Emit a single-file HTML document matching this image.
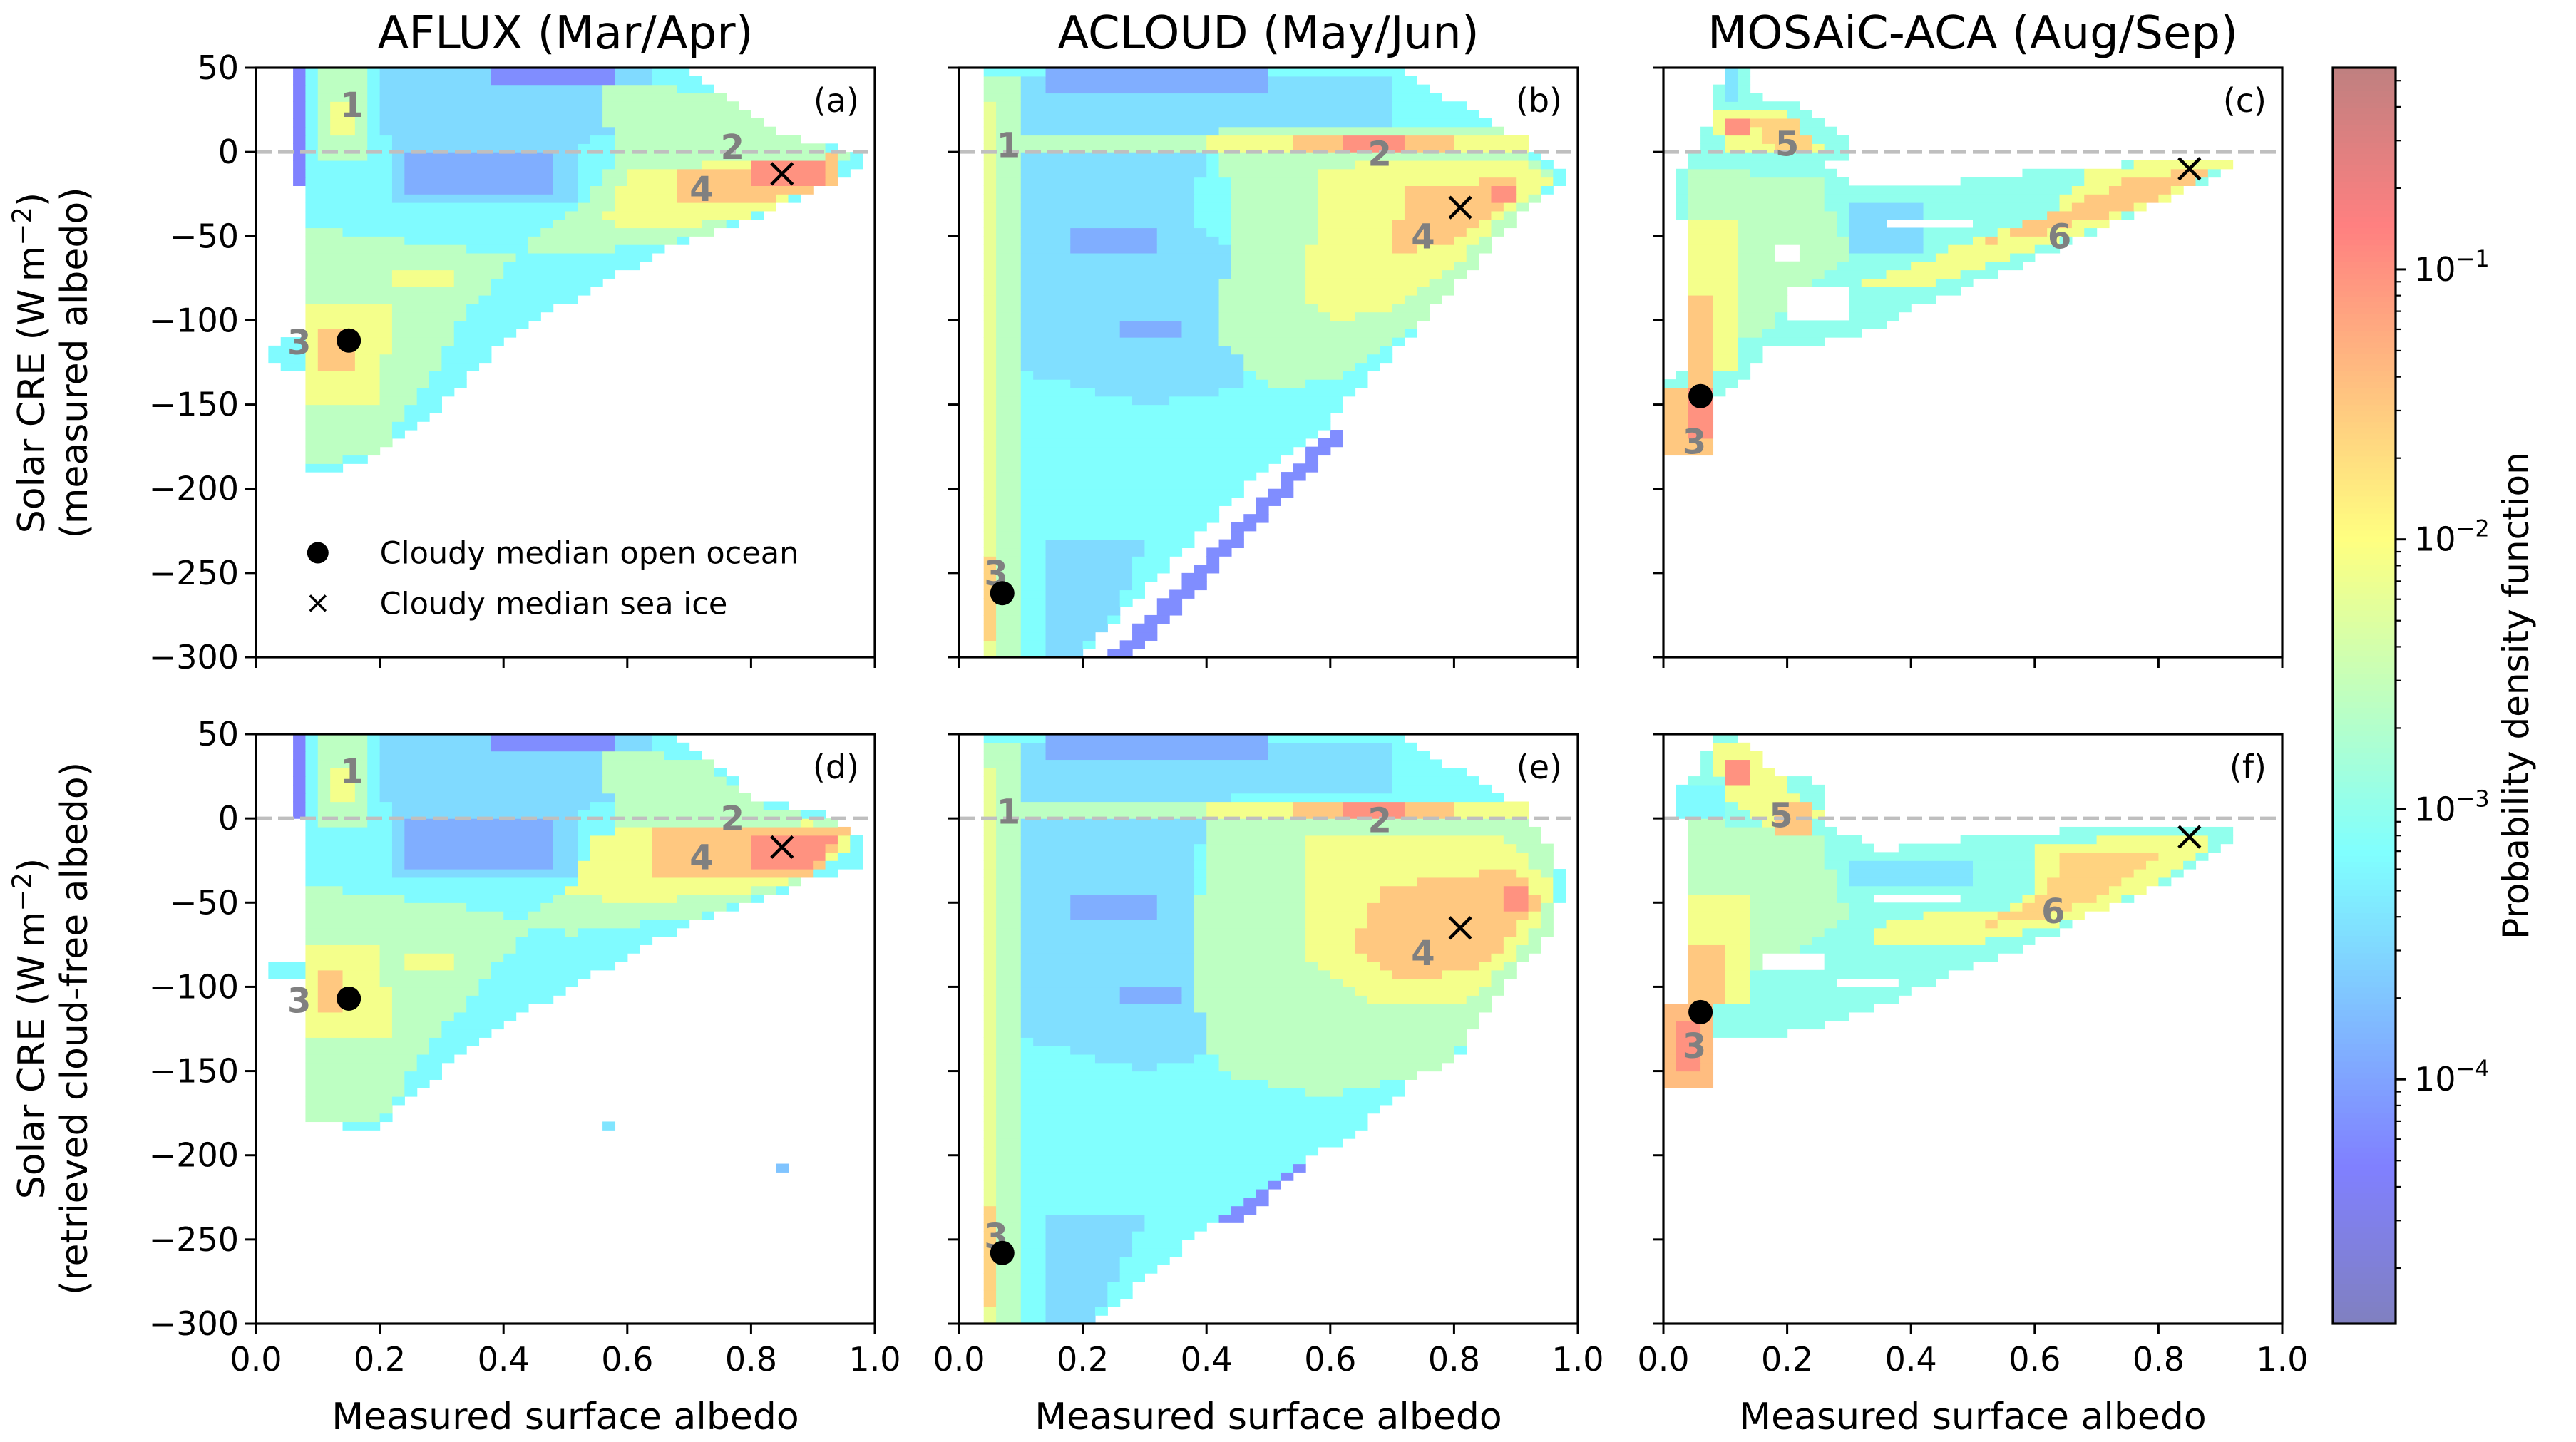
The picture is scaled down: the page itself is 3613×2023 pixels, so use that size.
<!DOCTYPE html>
<html><head><meta charset="utf-8"><title>Solar CRE vs surface albedo</title>
<style>
html,body{margin:0;padding:0;background:#fff;}
svg{display:block;font-family:"DejaVu Sans","Liberation Sans",sans-serif;}
</style></head>
<body>
<svg id="fig" xmlns="http://www.w3.org/2000/svg" width="3613" height="2023" viewBox="0 0 3613 2023">
<rect x="0" y="0" width="3613" height="2023" fill="#fff"/>
</svg>
<script>
// ---------------- data ----------------
const xTicks = [0, 0.2, 0.4, 0.6, 0.8, 1.0];
const xTickLabels = ["0.0", "0.2", "0.4", "0.6", "0.8", "1.0"];
const yTicks = [50, 0, -50, -100, -150, -200, -250, -300];
const yTickLabels = ["50", "0", "\u221250", "\u2212100", "\u2212150", "\u2212200", "\u2212250", "\u2212300"];
const titles = ["AFLUX (Mar/Apr)", "ACLOUD (May/Jun)", "MOSAiC-ACA (Aug/Sep)"];
const panelTags = ["(a)", "(b)", "(c)", "(d)", "(e)", "(f)"];
const cbarDecades = [-1, -2, -3, -4];
const cbarMinExp = -4.905, cbarMaxExp = -0.253;

// median markers [albedo, CRE]
const oceanMedians = [[0.15, -112], [0.07, -262], [0.06, -145], [0.15, -107], [0.07, -258], [0.06, -115]];
const iceMedians = [[0.85, -13], [0.81, -33], [0.85, -10], [0.85, -17], [0.81, -65], [0.85, -11]];
// regime number labels: [text, albedo, CRE]
const regimeLabels = [
 [["1",0.155,28],["2",0.77,3],["4",0.72,-22],["3",0.07,-113]],
 [["1",0.08,4],["2",0.68,-1],["4",0.75,-50],["3",0.06,-250]],
 [["5",0.2,5],["6",0.64,-50],["3",0.05,-172]],
 [["1",0.155,28],["2",0.77,0],["4",0.72,-23],["3",0.07,-108]],
 [["1",0.08,4],["2",0.68,-1],["4",0.75,-80],["3",0.06,-248]],
 [["5",0.19,2],["6",0.63,-55],["3",0.05,-135]]
];

// density regions: log10(pdf) level per region (null = empty), polygons in [albedo, CRE]
const aLevels = [-3.2,-3.5,-4.3,-3.9,-4.2,-2.6,-2.6,-2.6,-2.1,-2.1,-2.1,-2.1,-1.5,-1.5,-1.0];
const aShapes = [
 [[0.07,50],[0.7,50],[0.76,35],[0.8,20],[0.86,10],[0.98,0],[0.98,-10],[0.92,-20],[0.86,-30],[0.8,-40],[0.65,-60],[0.5,-90],[0.38,-120],[0.3,-150],[0.2,-180],[0.12,-190],[0.08,-190],[0.08,-130],[0.02,-125],[0.02,-115],[0.08,-110],[0.07,-20]],
 [[0.2,50],[0.64,50],[0.64,20],[0.52,5],[0.52,-28],[0.22,-28]],
 [[0.07,50],[0.09,50],[0.09,-20],[0.07,-20]],
 [[0.24,2],[0.48,2],[0.48,-25],[0.24,-25]],
 [[0.38,50],[0.58,50],[0.58,40],[0.38,40]],
 [[0.08,-45],[0.3,-55],[0.42,-62],[0.34,-95],[0.28,-135],[0.2,-178],[0.08,-188]],
 [[0.56,40],[0.74,36],[0.84,12],[0.96,-3],[0.86,-30],[0.7,-52],[0.5,-62],[0.42,-55],[0.52,-32],[0.58,-8]],
 [[0.1,50],[0.18,50],[0.18,-5],[0.1,-5]],
 [[0.08,-92],[0.22,-92],[0.2,-150],[0.08,-150]],
 [[0.6,-12],[0.8,-4],[0.92,-12],[0.82,-36],[0.66,-46],[0.56,-42]],
 [[0.13,10],[0.17,10],[0.17,32],[0.13,32]],
 [[0.22,-68],[0.32,-68],[0.32,-80],[0.22,-80]],
 [[0.68,-12],[0.94,-2],[0.94,-20],[0.82,-30],[0.68,-32]],
 [[0.11,-104],[0.16,-104],[0.16,-132],[0.11,-132]],
 [[0.8,-6],[0.93,-6],[0.93,-18],[0.8,-20]]
];
const bLevels = [-3.15,-3.45,-3.9,-3.9,-3.9,-3.5,-4.2,-2.6,-2.6,-2.2,-2.6,-2.1,-1.5,-1.0,-2.1,-1.5,-1.0,-1.6];
const bShapes = [
 [[0.04,50],[0.71,50],[0.8,30],[0.86,16],[0.9,4],[0.98,-12],[0.98,-20],[0.9,-40],[0.85,-60],[0.8,-80],[0.74,-105],[0.64,-143],[0.58,-168],[0.46,-200],[0.38,-229],[0.28,-267],[0.19,-300],[0.04,-300]],
 [[0.1,45],[0.7,45],[0.7,15],[0.4,12],[0.38,-40],[0.5,-80],[0.45,-140],[0.3,-150],[0.1,-130]],
 [[0.14,50],[0.5,50],[0.5,36],[0.14,36]],
 [[0.18,-45],[0.32,-45],[0.32,-60],[0.18,-60]],
 [[0.26,-100],[0.36,-100],[0.36,-110],[0.26,-110]],
 [[0.15,-230],[0.3,-230],[0.26,-270],[0.19,-300],[0.15,-300]],
 [[0.6,-165],[0.63,-165],[0.28,-300],[0.24,-300]],
 [[0.42,15],[0.86,16],[0.97,-15],[0.85,-60],[0.75,-100],[0.62,-135],[0.5,-140],[0.42,-110],[0.44,-40]],
 [[0.04,45],[0.1,45],[0.1,-300],[0.04,-300]],
 [[0.05,30],[0.07,30],[0.07,-300],[0.05,-300]],
 [[0.1,12],[0.4,12],[0.4,0],[0.1,0]],
 [[0.4,12],[0.92,12],[0.92,0],[0.4,0]],
 [[0.55,10],[0.8,10],[0.8,0],[0.55,0]],
 [[0.62,8],[0.72,8],[0.72,2],[0.62,2]],
 [[0.58,-8],[0.92,-5],[0.96,-18],[0.86,-45],[0.8,-70],[0.7,-95],[0.6,-100],[0.55,-80],[0.58,-40]],
 [[0.72,-22],[0.9,-15],[0.88,-35],[0.8,-55],[0.7,-60]],
 [[0.86,-20],[0.9,-20],[0.9,-30],[0.86,-30]],
 [[0.04,-240],[0.07,-240],[0.07,-290],[0.04,-290]]
];
const cLevels = [-3.0,-2.6,-2.1,-1.5,-1.5,-1.0,-2.1,-1.6,-1.0,-2.1,-1.5,-3.5,null,null,null,-3.4];
const cShapes = [
 [[0.1,50],[0.13,50],[0.14,35],[0.22,28],[0.3,5],[0.3,-2],[0.25,-8],[0.3,-18],[0.48,-18],[0.62,-10],[0.8,-6],[0.92,-5],[0.92,-10],[0.84,-23],[0.78,-34],[0.66,-53],[0.57,-69],[0.43,-88],[0.31,-110],[0.16,-118],[0.13,-134],[0.08,-145],[0.08,-175],[0.0,-178],[0.0,-135],[0.04,-130],[0.04,-60],[0.02,-15],[0.04,-5],[0.06,0],[0.08,25]],
 [[0.04,-10],[0.25,-15],[0.3,-60],[0.15,-110],[0.04,-120]],
 [[0.04,-40],[0.12,-40],[0.12,-130],[0.04,-130]],
 [[0.04,-85],[0.09,-85],[0.09,-140],[0.04,-140]],
 [[0.0,-138],[0.08,-138],[0.08,-178],[0.0,-178]],
 [[0.04,-140],[0.08,-140],[0.08,-170],[0.04,-170]],
 [[0.08,25],[0.2,25],[0.26,0],[0.1,0]],
 [[0.14,22],[0.22,20],[0.24,2],[0.18,2]],
 [[0.1,18],[0.14,18],[0.14,12],[0.1,12]],
 [[0.7,-8],[0.92,-6],[0.8,-30],[0.6,-58],[0.4,-82],[0.3,-80],[0.45,-60],[0.62,-38]],
 [[0.76,-14],[0.9,-10],[0.78,-30],[0.6,-50],[0.5,-55],[0.66,-32]],
 [[0.3,-30],[0.42,-30],[0.42,-58],[0.3,-58]],
 [[0.2,-78],[0.3,-78],[0.3,-100],[0.2,-100]],
 [[0.36,-38],[0.5,-38],[0.5,-45],[0.36,-45]],
 [[0.18,-55],[0.22,-55],[0.22,-65],[0.18,-65]],
 [[0.1,50],[0.13,50],[0.13,30],[0.1,30]]
];
const dLevels = [-3.2,-3.4,-3.7,-3.5,-4.3,-3.9,-4.2,-2.6,-2.6,-2.6,-2.1,-2.1,-2.1,-1.5,-1.0,-2.1,-1.5];
const dShapes = [
 [[0.07,50],[0.68,50],[0.74,35],[0.8,12],[0.88,5],[0.92,3],[0.98,-10],[0.98,-28],[0.88,-38],[0.82,-48],[0.7,-62],[0.55,-92],[0.42,-118],[0.3,-150],[0.22,-175],[0.2,-185],[0.08,-180],[0.08,-95],[0.02,-95],[0.02,-85],[0.08,-85]],
 [[0.56,-180],[0.58,-180],[0.58,-185],[0.56,-185]],
 [[0.84,-205],[0.86,-205],[0.86,-210],[0.84,-210]],
 [[0.2,50],[0.64,50],[0.64,20],[0.52,5],[0.52,-35],[0.22,-35]],
 [[0.07,50],[0.09,50],[0.09,0],[0.07,0]],
 [[0.24,0],[0.48,0],[0.48,-28],[0.24,-28]],
 [[0.38,50],[0.58,50],[0.58,40],[0.38,40]],
 [[0.08,-40],[0.3,-50],[0.45,-62],[0.36,-100],[0.28,-135],[0.2,-180],[0.08,-178]],
 [[0.56,40],[0.72,36],[0.8,10],[0.96,-5],[0.9,-35],[0.72,-58],[0.5,-68],[0.42,-60],[0.52,-38],[0.58,-8]],
 [[0.1,50],[0.18,50],[0.18,-5],[0.1,-5]],
 [[0.55,-8],[0.9,-2],[0.97,-15],[0.85,-40],[0.62,-50],[0.5,-45]],
 [[0.08,-75],[0.2,-75],[0.22,-130],[0.08,-130]],
 [[0.13,10],[0.17,10],[0.17,32],[0.13,32]],
 [[0.65,-5],[0.96,-5],[0.9,-35],[0.65,-35]],
 [[0.8,-8],[0.95,-10],[0.9,-28],[0.8,-28]],
 [[0.25,-80],[0.32,-80],[0.32,-90],[0.25,-90]],
 [[0.1,-92],[0.14,-92],[0.14,-115],[0.1,-115]]
];
const eLevels = [-3.15,-3.45,-3.9,-3.9,-3.9,-3.5,-4.2,-2.6,-2.6,-2.2,-2.6,-2.1,-1.5,-1.0,-2.1,-1.5,-1.0,-1.6];
const eShapes = [
 [[0.04,50],[0.7,50],[0.8,30],[0.86,16],[0.92,2],[0.96,-20],[0.98,-36],[0.96,-60],[0.9,-80],[0.86,-98],[0.8,-146],[0.75,-150],[0.64,-186],[0.45,-229],[0.36,-255],[0.22,-298],[0.04,-300]],
 [[0.1,45],[0.7,45],[0.7,15],[0.4,12],[0.38,-40],[0.46,-80],[0.42,-140],[0.3,-150],[0.1,-130]],
 [[0.14,50],[0.5,50],[0.5,36],[0.14,36]],
 [[0.18,-45],[0.32,-45],[0.32,-60],[0.18,-60]],
 [[0.26,-100],[0.36,-100],[0.36,-110],[0.26,-110]],
 [[0.15,-235],[0.3,-235],[0.26,-270],[0.22,-300],[0.15,-300]],
 [[0.52,-210],[0.56,-205],[0.46,-240],[0.42,-240]],
 [[0.4,12],[0.88,12],[0.97,-20],[0.97,-60],[0.86,-110],[0.78,-150],[0.6,-165],[0.42,-150],[0.38,-100]],
 [[0.04,45],[0.1,45],[0.1,-300],[0.04,-300]],
 [[0.05,30],[0.07,30],[0.07,-300],[0.05,-300]],
 [[0.1,12],[0.4,12],[0.4,0],[0.1,0]],
 [[0.4,12],[0.92,12],[0.92,0],[0.4,0]],
 [[0.55,10],[0.8,10],[0.8,0],[0.55,0]],
 [[0.62,8],[0.72,8],[0.72,2],[0.62,2]],
 [[0.55,-10],[0.88,-12],[0.97,-40],[0.9,-80],[0.82,-110],[0.68,-110],[0.56,-85]],
 [[0.68,-40],[0.9,-30],[0.94,-50],[0.84,-90],[0.72,-95],[0.64,-75]],
 [[0.88,-40],[0.93,-40],[0.93,-55],[0.88,-55]],
 [[0.04,-230],[0.07,-230],[0.07,-290],[0.04,-290]]
];
const fLevels = [-3.0,-2.6,-2.1,-1.5,-1.4,-1.0,-2.1,-1.0,-1.5,-3.2,-2.1,-1.6,-3.4,null,null,null];
const fShapes = [
 [[0.08,50],[0.12,50],[0.16,30],[0.26,20],[0.26,-5],[0.36,-19],[0.48,-12],[0.66,-7],[0.92,-6],[0.92,-12],[0.88,-24],[0.8,-41],[0.71,-53],[0.64,-67],[0.54,-84],[0.46,-93],[0.36,-110],[0.27,-122],[0.14,-131],[0.08,-131],[0.08,-160],[0.0,-160],[0.0,-112],[0.04,-112],[0.04,-5],[0.02,20],[0.06,25]],
 [[0.04,0],[0.25,-10],[0.3,-60],[0.1,-100],[0.04,-100]],
 [[0.04,-45],[0.14,-45],[0.14,-110],[0.04,-110]],
 [[0.04,-75],[0.1,-75],[0.1,-112],[0.04,-112]],
 [[0.0,-112],[0.08,-112],[0.08,-158],[0.0,-158]],
 [[0.02,-120],[0.07,-120],[0.07,-150],[0.02,-150]],
 [[0.08,45],[0.14,45],[0.2,20],[0.26,0],[0.2,-8],[0.1,10]],
 [[0.1,35],[0.14,35],[0.14,20],[0.1,20]],
 [[0.18,10],[0.24,10],[0.24,-10],[0.18,-10]],
 [[0.02,22],[0.1,22],[0.1,0],[0.02,0]],
 [[0.6,-15],[0.9,-8],[0.8,-40],[0.65,-62],[0.5,-75],[0.3,-72],[0.4,-58],[0.55,-55],[0.6,-45]],
 [[0.65,-22],[0.8,-22],[0.72,-45],[0.6,-60],[0.5,-65],[0.6,-50]],
 [[0.3,-25],[0.5,-25],[0.5,-40],[0.3,-40]],
 [[0.34,-44],[0.48,-44],[0.48,-48],[0.34,-48]],
 [[0.16,-78],[0.26,-78],[0.26,-92],[0.16,-92]],
 [[0.28,-95],[0.38,-95],[0.38,-102],[0.28,-102]]
];
const panelLevels = [aLevels, bLevels, cLevels, dLevels, eLevels, fLevels];
const panelShapes = [aShapes, bShapes, cShapes, dShapes, eShapes, fShapes];

// ---------------- layout ----------------
const NS = "http://www.w3.org/2000/svg";
const svg = document.getElementById("fig");
const PW = 868, PH = 827;
const panelX0 = [359, 1345, 2333, 359, 1345, 2333];
const panelY0 = [95, 95, 95, 1030, 1030, 1030];
const XMIN = 0, XMAX = 1, YMIN = -300, YMAX = 50;
const NX = 50, NY = 70;

function el(tag, attrs, parent) {
  const e = document.createElementNS(NS, tag);
  for (const k in attrs) e.setAttribute(k, attrs[k]);
  (parent || svg).appendChild(e);
  return e;
}
function jet(t) {
  t = Math.max(0, Math.min(1, t));
  const cl = v => Math.max(0, Math.min(1, v));
  const r = cl(1.5 - Math.abs(4 * t - 3)), g = cl(1.5 - Math.abs(4 * t - 2)), b = cl(1.5 - Math.abs(4 * t - 1));
  const f = v => Math.round((v * 0.5 + 0.5) * 255);
  return "rgb(" + f(r) + "," + f(g) + "," + f(b) + ")";
}
function levelColor(lv) { return jet((lv - cbarMinExp) / (cbarMaxExp - cbarMinExp)); }
function inPoly(px, py, pts) {
  let inside = false;
  for (let i = 0, j = pts.length - 1; i < pts.length; j = i++) {
    const xi = pts[i][0], yi = pts[i][1], xj = pts[j][0], yj = pts[j][1];
    if (((yi > py) !== (yj > py)) && (px < (xj - xi) * (py - yi) / (yj - yi) + xi)) inside = !inside;
  }
  return inside;
}

for (let p = 0; p < 6; p++) {
  const x0 = panelX0[p], y0 = panelY0[p];
  const X = v => x0 + (v - XMIN) / (XMAX - XMIN) * PW;
  const Y = v => y0 + (YMAX - v) / (YMAX - YMIN) * PH;
  const g = el("g", {});
  
  
  const hm = el("g", {}, g);
  
  
  const levels = panelLevels[p], shapes = panelShapes[p];
  const dx = (XMAX - XMIN) / NX, dy = (YMAX - YMIN) / NY;
  for (let j = 0; j < NY; j++) {
    const cy = YMIN + (j + 0.5) * dy;
    let runStart = -1, runLv = null;
    const flush = (endI) => {
      if (runStart >= 0 && runLv !== null) {
        const r = el("rect", {x: X(XMIN + runStart * dx), y: Y(YMIN + (j + 1) * dy),
          width: X(XMIN + endI * dx) - X(XMIN + runStart * dx) + 0.6,
          height: Y(YMIN + j * dy) - Y(YMIN + (j + 1) * dy) + 0.6, fill: levelColor(runLv)}, hm);
        
        
      }
    };
    for (let i = 0; i <= NX; i++) {
      let lv = null;
      if (i < NX) {
        const cx = XMIN + (i + 0.5) * dx;
        let hit = false;
        for (let s = 0; s < shapes.length; s++) {
          if (inPoly(cx, cy, shapes[s])) { lv = levels[s]; hit = true; }
        }
        if (!hit) lv = null;
      }
      if (i === NX || lv !== runLv) {
        flush(i);
        runStart = i; runLv = lv;
      }
    }
  }
  const zl = el("line", {x1: x0, x2: x0 + PW, y1: Y(0), y2: Y(0), stroke: "#bfbfbf", "stroke-width": 5, "stroke-dasharray": "22 9"}, g);
  
  
  regimeLabels[p].forEach(r => {
    const t = el("text", {x: X(r[1]), y: Y(r[2]) + 17, "text-anchor": "middle", "font-size": 48, "font-weight": "bold", fill: "#808080"}, g);
    t.textContent = r[0];
    
    
  });
  const om = oceanMedians[p];
  const dot = el("circle", {cx: X(om[0]), cy: Y(om[1]), r: 17, fill: "#000"}, g);
  
  
  const im = iceMedians[p];
  const cr = el("path", {d: "M" + (X(im[0]) - 15) + " " + (Y(im[1]) - 15) + "l30 30M" + (X(im[0]) + 15) + " " + (Y(im[1]) - 15) + "l-30 30", stroke: "#000", "stroke-width": 4.5, fill: "none"}, g);
  
  
  const tg = el("text", {x: x0 + PW - 22, y: y0 + 62, "text-anchor": "end", "font-size": 46, fill: "#000"}, g);
  tg.textContent = panelTags[p];
  
  
  const fr = el("rect", {x: x0, y: y0, width: PW, height: PH, fill: "none", stroke: "#000", "stroke-width": 3.2}, g);
  
  
  yTicks.forEach((v, k) => {
    const tk = el("line", {x1: x0 - 15, x2: x0, y1: Y(v), y2: Y(v), stroke: "#000", "stroke-width": 3}, g);
    
    
    if (p % 3 === 0) {
      const tl = el("text", {x: x0 - 24, y: Y(v) + 16, "text-anchor": "end", "font-size": 46, fill: "#000"}, g);
      tl.textContent = yTickLabels[k];
      
      
    }
  });
  xTicks.forEach((v, k) => {
    const tk = el("line", {x1: X(v), x2: X(v), y1: y0 + PH, y2: y0 + PH + 15, stroke: "#000", "stroke-width": 3}, g);
    
    
    if (p >= 3) {
      const tl = el("text", {x: X(v), y: y0 + PH + 66, "text-anchor": "middle", "font-size": 46, fill: "#000"}, g);
      tl.textContent = xTickLabels[k];
      
      
    }
  });
  if (p >= 3) {
    const xl = el("text", {x: x0 + PW / 2, y: 2005, "text-anchor": "middle", "font-size": 52, fill: "#000"}, g);
    xl.textContent = "Measured surface albedo";
    
    
  }
  if (p < 3) {
    const tt = el("text", {x: x0 + PW / 2, y: 68, "text-anchor": "middle", "font-size": 64, fill: "#000"}, g);
    tt.textContent = titles[p];
    
    
  }
  if (p === 0) {
    const lg = el("g", {}, g);
    
    
    const ld = el("circle", {cx: X(0.1), cy: Y(-238), r: 15, fill: "#000"}, lg);
    
    
    const t1 = el("text", {x: X(0.2), y: Y(-238) + 15, "font-size": 43, fill: "#000"}, lg);
    t1.textContent = "Cloudy median open ocean";
    
    
    const lx = X(0.1), ly = Y(-268);
    const lc = el("path", {d: "M" + (lx - 11) + " " + (ly - 11) + "l22 22M" + (lx + 11) + " " + (ly - 11) + "l-22 22", stroke: "#000", "stroke-width": 3.5}, lg);
    
    
    const t2 = el("text", {x: X(0.2), y: ly + 15, "font-size": 43, fill: "#000"}, lg);
    t2.textContent = "Cloudy median sea ice";
    
    
  }
}

[[509, "(measured albedo)"], [1443, "(retrieved cloud-free albedo)"]].forEach(r => {
  const t = el("text", {transform: "translate(62," + r[0] + ") rotate(-90)", "text-anchor": "middle", "font-size": 52, fill: "#000"});
  t.innerHTML = 'Solar CRE (W\u2009m<tspan dy="-18" font-size="37">\u22122</tspan><tspan dy="18">)</tspan>';
  
  
  const t2 = el("text", {transform: "translate(122," + r[0] + ") rotate(-90)", "text-anchor": "middle", "font-size": 52, fill: "#000"});
  t2.textContent = r[1];
  
  
});

const CBX = 3272, CBW = 88, CBY0 = 95, CBY1 = 1857;
const CY = e => CBY1 - (e - cbarMinExp) / (cbarMaxExp - cbarMinExp) * (CBY1 - CBY0);
const cb = el("g", {});


const NSTEP = 220;
for (let k = 0; k < NSTEP; k++) {
  const e0 = cbarMinExp + (cbarMaxExp - cbarMinExp) * k / NSTEP;
  const e1 = cbarMinExp + (cbarMaxExp - cbarMinExp) * (k + 1) / NSTEP;
  const r = el("rect", {x: CBX, y: CY(e1), width: CBW, height: CY(e0) - CY(e1) + 0.8, fill: levelColor((e0 + e1) / 2)}, cb);
  
  
}
const cbf = el("rect", {x: CBX, y: CBY0, width: CBW, height: CBY1 - CBY0, fill: "none", stroke: "#000", "stroke-width": 3.2}, cb);


for (let d = -5; d <= 0; d++) {
  for (let m = 1; m <= 9; m++) {
    const e = d + Math.log10(m);
    if (e < cbarMinExp || e > cbarMaxExp) continue;
    const tk = el("line", {x1: CBX + CBW, x2: CBX + CBW + (m === 1 ? 15 : 8), y1: CY(e), y2: CY(e), stroke: "#000", "stroke-width": m === 1 ? 3 : 2.2}, cb);
    
    
  }
}
cbarDecades.forEach(d => {
  const t = el("text", {x: CBX + CBW + 26, y: CY(d) + 16, "font-size": 46, fill: "#000"}, cb);
  t.innerHTML = '10<tspan dy="-20" font-size="32">\u2212' + (-d) + '</tspan>';
  
  
});
const cbl = el("text", {transform: "translate(3546,976) rotate(-90)", "text-anchor": "middle", "font-size": 50, fill: "#000"}, cb);
cbl.textContent = "Probability density function";


</script>
</body></html>
